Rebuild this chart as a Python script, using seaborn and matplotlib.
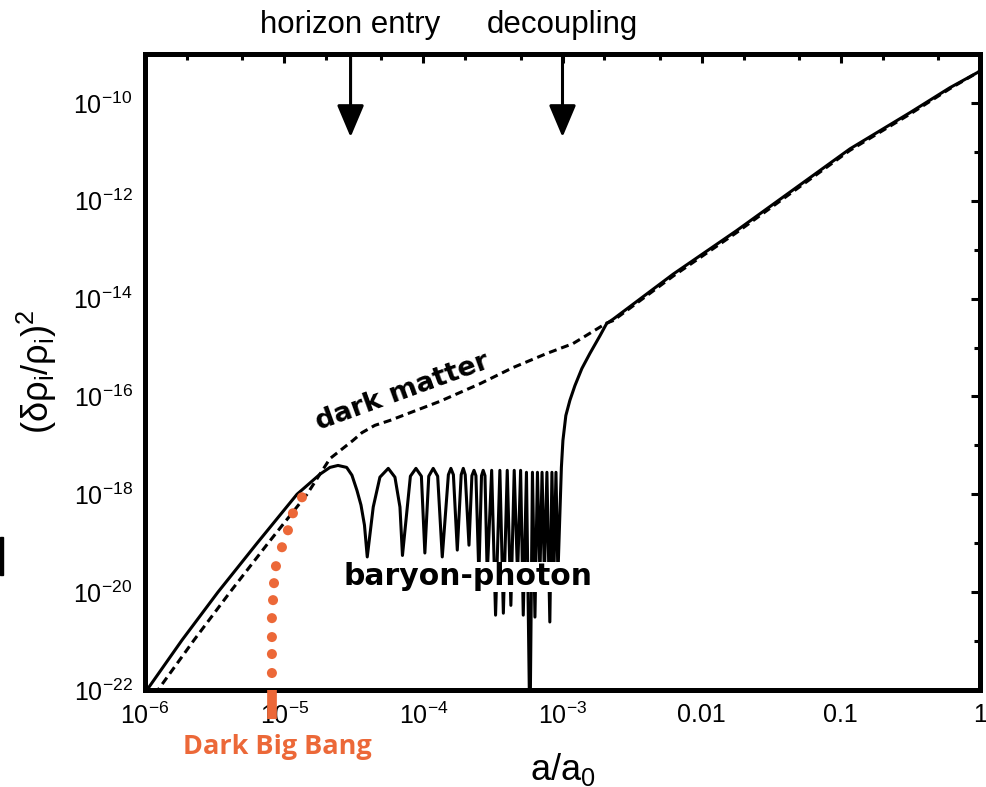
"""Growth of dark matter and baryon-photon perturbations vs scale factor."""

import numpy as np
import pandas as pd
import seaborn as sns
import matplotlib.pyplot as plt
from matplotlib.patches import Rectangle
from matplotlib.ticker import FixedLocator, FixedFormatter, LogLocator, NullFormatter

# values: log10(a/a0) and log10((drho/rho)^2)
dm_log_a = [-5.925, -5.907, -5.648, -5.389, -5.116, -4.836, -4.671, -4.506, -4.441, -4.348,
            -4.240, -3.881, -3.593, -3.356, -3.112, -2.925, -2.683, -2.636, -2.205,
            -1.749, -0.935, -0.504, -0.217, 0.000]
dm_log_power = [-22.10, -22.00, -20.98, -20.00, -19.00, -18.00, -17.27, -16.90, -16.74, -16.59,
                -16.49, -16.10, -15.74, -15.41, -15.12, -14.92, -14.50, -14.45, -13.54,
                -12.65, -10.97, -10.23, -9.71, -9.35]

bp_log_a = [-6.004, -5.986, -5.734, -5.476, -5.195, -4.908, -4.743, -4.671, -4.613, -4.551,
            -4.513, -4.477, -4.448, -4.423, -4.403, -4.360, -4.312, -4.252, -4.204, -4.168,
            -4.150, -4.093, -4.053, -4.014, -3.989, -3.961, -3.929, -3.897, -3.864, -3.820,
            -3.802, -3.784, -3.756, -3.728, -3.713, -3.699, -3.672, -3.651, -3.636, -3.622,
            -3.601, -3.582, -3.570, -3.557, -3.541, -3.509, -3.481, -3.450, -3.425, -3.397,
            -3.371, -3.347, -3.323, -3.301, -3.282, -3.259, -3.234, -3.216, -3.198, -3.180,
            -3.162, -3.147, -3.130, -3.112, -3.091, -3.076, -3.062, -3.047, -3.033, -3.008,
            -2.997, -2.976, -2.947, -2.911, -2.861, -2.803, -2.731, -2.683, -2.636, -2.205,
            -1.749, -0.935, -0.504, -0.217, 0.000]
bp_log_power = [-22.08, -22.00, -20.98, -20.00, -19.00, -18.00, -17.59, -17.45, -17.41, -17.45,
                -17.61, -17.92, -18.22, -18.63, -19.28, -18.26, -17.65, -17.47, -17.65, -18.26,
                -19.25, -17.63, -17.47, -17.63, -19.20, -17.63, -17.47, -17.63, -19.28, -17.60,
                -17.47, -17.60, -19.14, -17.60, -17.47, -17.60, -19.04, -17.62, -17.51, -17.62,
                -19.65, -17.62, -17.51, -17.62, -19.65, -17.51, -20.47, -17.51, -20.43, -17.51,
                -20.27, -17.51, -19.65, -17.51, -20.47, -17.55, -23.00, -17.55, -20.51, -17.55,
                -19.65, -17.55, -19.65, -17.55, -20.61, -17.55, -19.65, -17.55, -19.65, -17.45,
                -16.90, -16.39, -16.08, -15.78, -15.43, -15.12, -14.76, -14.51, -14.42, -13.50,
                -12.61, -10.94, -10.20, -9.69, -9.35]

dbb_log_a = [-5.088, -5.088, -5.088, -5.088, -5.080, -5.073, -5.059, -5.016, -4.973, -4.937, -4.872]
dbb_log_power = [-21.653, -21.265, -20.918, -20.531, -20.163, -19.816, -19.469, -19.082,
                 -18.735, -18.388, -18.061]

horizon_entry_a = 3.0e-5
decoupling_a = 1.0e-3
dark_big_bang_a = 8.2e-6
arrow_tip_power = 2.0e-11

x_ticks = [1e-6, 1e-5, 1e-4, 1e-3, 1e-2, 1e-1, 1.0]
x_tick_labels = ["10$^{-6}$", "10$^{-5}$", "10$^{-4}$", "10$^{-3}$", "0.01", "0.1", "1"]
y_ticks = [1e-22, 1e-20, 1e-18, 1e-16, 1e-14, 1e-12, 1e-10]
y_tick_labels = ["10$^{-22}$", "10$^{-20}$", "10$^{-18}$", "10$^{-16}$",
                 "10$^{-14}$", "10$^{-12}$", "10$^{-10}$"]
y_minor_ticks = [1e-21, 1e-19, 1e-17, 1e-15, 1e-13, 1e-11, 1e-9]

ORANGE = "#EC6838"

sns.set_style("white")
plt.rcParams["font.family"] = ["Liberation Sans", "DejaVu Sans"]
plt.rcParams["mathtext.fontset"] = "custom"
plt.rcParams["mathtext.rm"] = "Liberation Sans"
plt.rcParams["mathtext.default"] = "regular"
for key in ["text.color", "axes.labelcolor", "xtick.color", "ytick.color"]:
    plt.rcParams[key] = "black"

dm = pd.DataFrame({"a": np.power(10.0, dm_log_a), "power": np.power(10.0, dm_log_power)})
bp = pd.DataFrame({"a": np.power(10.0, bp_log_a), "power": np.power(10.0, bp_log_power)})
dbb = pd.DataFrame({"a": np.power(10.0, dbb_log_a), "power": np.power(10.0, dbb_log_power)})

fig = plt.figure(figsize=(9.86, 7.87), dpi=100)
ax = fig.add_axes([145 / 986, 1 - 690 / 787, 835 / 986, 636 / 787])
ax.set_xscale("log")
ax.set_yscale("log")

sns.lineplot(data=dm, x="a", y="power", sort=False, estimator=None, color="black",
             linewidth=2.2, linestyle=(0, (2.6, 1.6)), ax=ax)
sns.lineplot(data=bp, x="a", y="power", sort=False, estimator=None, color="black",
             linewidth=2.2, ax=ax)
sns.scatterplot(data=dbb, x="a", y="power", color=ORANGE, s=52, edgecolor="none",
                zorder=4, ax=ax)

ax.set_xlim(1e-6, 1.0)
ax.set_ylim(1e-22, 1e-9)

# dark big bang marker below the axis
ax.plot([dark_big_bang_a, dark_big_bang_a], [0.0, -0.045], transform=ax.get_xaxis_transform(),
        color=ORANGE, linewidth=7, solid_capstyle="butt", clip_on=False, zorder=6)

# arrows + labels on top
for a_val, label in [(horizon_entry_a, "horizon entry"), (decoupling_a, "decoupling")]:
    ax.annotate("", xy=(a_val, arrow_tip_power), xytext=(a_val, 1e-9),
                arrowprops=dict(arrowstyle="-|>,head_length=0.9,head_width=0.38",
                                color="black", lw=2.2, mutation_scale=22,
                                shrinkA=0, shrinkB=0))
    ax.text(a_val, 1.046, label, transform=ax.get_xaxis_transform(), ha="center",
            va="center", fontsize=22.5)

ax.text(0.309, 0.469, "dark matter", transform=ax.transAxes, rotation=20, ha="center",
        va="center", fontsize=19.5, fontweight="bold", family="DejaVu Sans")
ax.text(0.387, 0.178, "baryon-photon", transform=ax.transAxes, ha="center", va="center",
        fontsize=21.5, fontweight="bold", family="DejaVu Sans", zorder=5,
        bbox=dict(facecolor="white", edgecolor="none", pad=0.5))
ax.text(0.159, -0.090, "Dark Big Bang", transform=ax.transAxes, ha="center", va="center",
        fontsize=19.5, fontweight="bold", family="Open Sans", color=ORANGE)

ax.xaxis.set_major_locator(FixedLocator(x_ticks))
ax.xaxis.set_major_formatter(FixedFormatter(x_tick_labels))
ax.xaxis.set_minor_locator(LogLocator(base=10, subs=(2.0, 5.0)))
ax.xaxis.set_minor_formatter(NullFormatter())
ax.yaxis.set_major_locator(FixedLocator(y_ticks))
ax.yaxis.set_major_formatter(FixedFormatter(y_tick_labels))
ax.yaxis.set_minor_locator(FixedLocator(y_minor_ticks))
ax.yaxis.set_minor_formatter(NullFormatter())

ax.tick_params(which="both", direction="in", top=True, right=True, width=2.2, color="black")
ax.tick_params(which="major", length=6.5, labelsize=18, pad=9)
ax.tick_params(which="minor", length=4)

for spine in ax.spines.values():
    spine.set_linewidth(3.6)
    spine.set_color("black")

ax.set_xlabel("a/a$_0$", fontsize=26, labelpad=16)
ax.set_ylabel("(δρ$_i$/ρ$_i$)$^2$", fontsize=26, labelpad=10)

# small cropped mark at the left edge of the original
fig.add_artist(Rectangle((0, 1 - 575 / 787), 3 / 986, 38 / 787, transform=fig.transFigure,
                         color="black"))

fig.savefig("out.png", dpi=100)
